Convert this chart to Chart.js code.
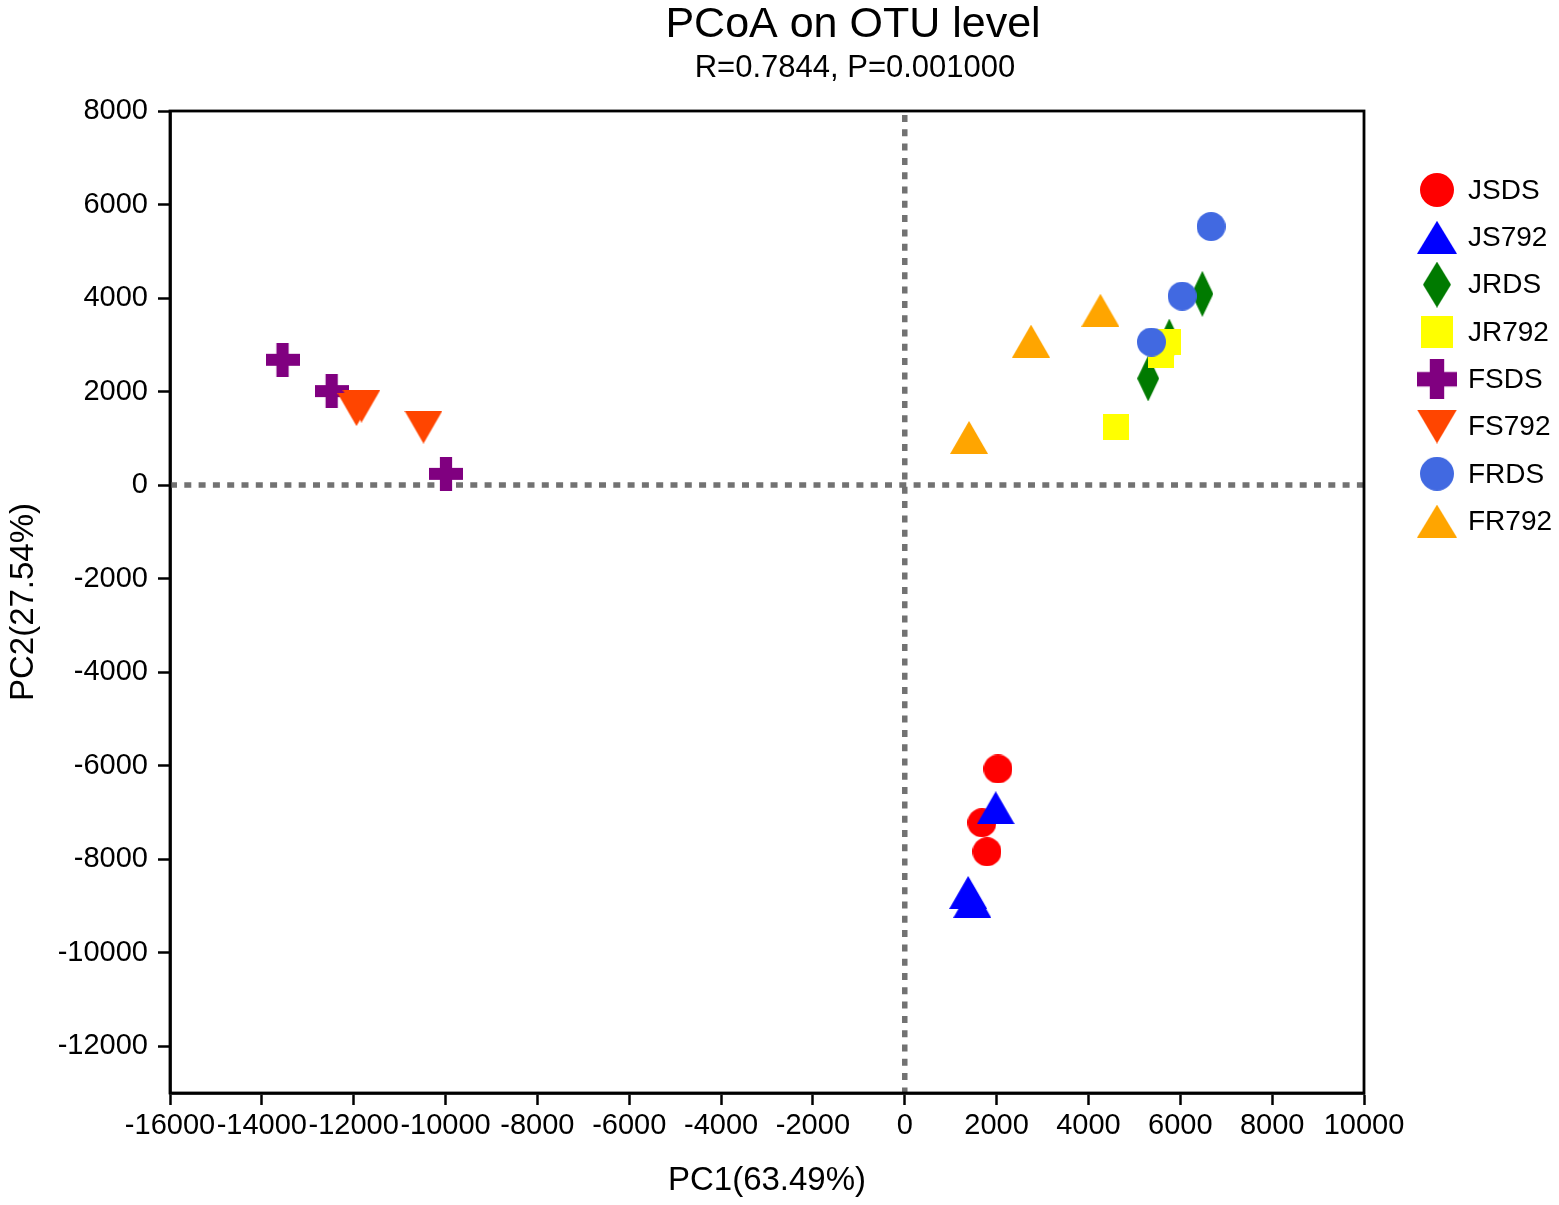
<!DOCTYPE html>
<html lang="en">
<head>
    <meta charset="UTF-8">
    <title>PCoA on OTU level</title>
    <script src="https://cdn.jsdelivr.net/npm/chart.js"></script>
    <style>
        * {
            margin: 0;
            padding: 0;
            box-sizing: border-box;
        }

        body {
            background-color: #ffffff;
        }

        .chart-box {
            position: relative;
            width: 1559px;
            height: 1205px;
        }
    </style>
</head>
<body>
    <div class="chart-box">
        <canvas id="pcoaChart"></canvas>
    </div>

    <script>
        // Data
        const groups = ['JSDS', 'JS792', 'JRDS', 'JR792', 'FSDS', 'FS792', 'FRDS', 'FR792'];

        const jsdsX = [2030, 1680, 1790];
        const jsdsY = [-6070, -7220, -7840];
        const js792X = [1980, 1380, 1470];
        const js792Y = [-6900, -8710, -8900];
        const jrdsX = [6480, 5760, 5300];
        const jrdsY = [4090, 3070, 2280];
        const jr792X = [4590, 5730, 5570];
        const jr792Y = [1250, 3070, 2790];
        const fsdsX = [-13550, -12480, -9990];
        const fsdsY = [2680, 2010, 240];
        const fs792X = [-11830, -11940, -10480];
        const fs792Y = [1690, 1615, 1240];
        const frdsX = [6670, 6040, 5370];
        const frdsY = [5530, 4040, 3060];
        const fr792X = [4260, 2750, 1400];
        const fr792Y = [3740, 3080, 1020];

        const xTicks = [-16000, -14000, -12000, -10000, -8000, -6000, -4000, -2000, 0, 2000, 4000, 6000, 8000, 10000];
        const yTicks = [-12000, -10000, -8000, -6000, -4000, -2000, 0, 2000, 4000, 6000, 8000];

        const seriesX = [jsdsX, js792X, jrdsX, jr792X, fsdsX, fs792X, frdsX, fr792X];
        const seriesY = [jsdsY, js792Y, jrdsY, jr792Y, fsdsY, fs792Y, frdsY, fr792Y];

        // Look
        const FONT = "'Liberation Sans', Arial, sans-serif";
        const colors = ['#ff0000', '#0000ff', '#007a00', '#ffff00', '#800080', '#ff4500', '#4169e1', '#ffa500'];
        const shapes = ['circle', 'triangle', 'diamond', 'square', 'plus', 'down', 'circle', 'triangle'];

        // size [w, h] of each shape, for the plot and for the legend
        const plotSize = { circle: [29, 29], triangle: [38, 33], down: [38, 33], diamond: [22, 46], square: [26, 26], plus: [34, 34] };
        const legendSize = { circle: [34, 34], triangle: [40, 33], down: [40, 34], diamond: [28, 46], square: [32, 32], plus: [40, 40] };

        function makeMarker(shape, w, h, color) {
            const c = document.createElement('canvas');
            c.width = w;
            c.height = h;
            const g = c.getContext('2d');
            g.fillStyle = color;
            g.beginPath();
            if (shape === 'circle') {
                g.arc(w / 2, h / 2, w / 2, 0, Math.PI * 2);
            } else if (shape === 'triangle') {
                g.moveTo(w / 2, 0);
                g.lineTo(w, h);
                g.lineTo(0, h);
            } else if (shape === 'down') {
                g.moveTo(0, 0);
                g.lineTo(w, 0);
                g.lineTo(w / 2, h);
            } else if (shape === 'diamond') {
                g.moveTo(w / 2, 0);
                g.lineTo(w, h / 2);
                g.lineTo(w / 2, h);
                g.lineTo(0, h / 2);
            } else if (shape === 'square') {
                g.rect(0, 0, w, h);
            } else if (shape === 'plus') {
                const t = w * 0.36;
                g.rect((w - t) / 2, 0, t, h);
                g.rect(0, (h - t) / 2, w, t);
            }
            g.closePath();
            g.fill();
            return c;
        }

        const plotMarkers = shapes.map((s, i) => makeMarker(s, plotSize[s][0], plotSize[s][1], colors[i]));
        const legendMarkers = shapes.map((s, i) => makeMarker(s, legendSize[s][0], legendSize[s][1], colors[i]));

        // Zero lines and plot box
        const framePlugin = {
            id: 'frame',
            beforeDatasetsDraw(chart) {
                const { ctx, chartArea, scales } = chart;
                const x0 = scales.x.getPixelForValue(0);
                const y0 = scales.y.getPixelForValue(0);
                ctx.save();
                ctx.strokeStyle = '#727272';
                ctx.lineWidth = 5.5;
                ctx.setLineDash([7, 7.3]);
                ctx.beginPath();
                ctx.moveTo(x0, chartArea.top + 4);
                ctx.lineTo(x0, chartArea.bottom);
                ctx.moveTo(chartArea.left, y0);
                ctx.lineTo(chartArea.right, y0);
                ctx.stroke();
                ctx.restore();
            },
            afterDraw(chart) {
                const { ctx, chartArea } = chart;
                ctx.save();
                ctx.strokeStyle = '#000000';
                ctx.lineWidth = 2.8;
                ctx.strokeRect(chartArea.left, chartArea.top, chartArea.right - chartArea.left, chartArea.bottom - chartArea.top);
                ctx.restore();
            }
        };

        // Title, subtitle and legend
        const textPlugin = {
            id: 'texts',
            afterDraw(chart) {
                const { ctx, chartArea } = chart;
                ctx.save();
                ctx.fillStyle = '#000000';
                ctx.textAlign = 'center';
                ctx.textBaseline = 'middle';
                ctx.font = '43px ' + FONT;
                ctx.fillText('PCoA on OTU level', 853, 25);
                ctx.font = '31px ' + FONT;
                ctx.fillText('R=0.7844, P=0.001000', 855, 68);

                ctx.textAlign = 'left';
                ctx.font = '28px ' + FONT;
                const mx = chartArea.right + 73;
                groups.forEach((name, i) => {
                    const y = 190 + i * 47.3;
                    const m = legendMarkers[i];
                    ctx.drawImage(m, mx - m.width / 2, y - m.height / 2);
                    ctx.fillText(name, mx + 31, y + 1);
                });
                ctx.restore();
            }
        };

        const datasets = groups.map((name, i) => ({
            label: name,
            data: seriesX[i].map((x, k) => ({ x: x, y: seriesY[i][k] })),
            pointStyle: plotMarkers[i],
            pointRadius: 15,
            backgroundColor: colors[i],
            borderColor: colors[i],
            order: groups.length - i
        }));

        const axisTick = { drawOnChartArea: false, drawTicks: true, tickLength: 12, tickColor: '#000000', tickWidth: 2.5 };

        new Chart(document.getElementById('pcoaChart'), {
            type: 'scatter',
            data: { datasets: datasets },
            plugins: [framePlugin, textPlugin],
            options: {
                responsive: true,
                maintainAspectRatio: false,
                animation: false,
                events: [],
                layout: {
                    padding: { top: 111, right: 195, left: 0, bottom: 0 }
                },
                plugins: {
                    legend: { display: false },
                    tooltip: { enabled: false },
                    title: { display: false }
                },
                scales: {
                    x: {
                        type: 'linear',
                        min: -16000,
                        max: 10000,
                        afterBuildTicks: s => { s.ticks = xTicks.map(v => ({ value: v })); },
                        afterFit: s => { s.height = 112; },
                        ticks: {
                            autoSkip: false,
                            maxRotation: 0,
                            padding: 4,
                            color: '#000000',
                            font: { family: FONT, size: 29 },
                            callback: v => String(v)
                        },
                        grid: axisTick,
                        border: { color: '#000000', width: 2.8 },
                        title: {
                            display: true,
                            text: 'PC1(63.49%)',
                            color: '#000000',
                            font: { family: FONT, size: 33 },
                            padding: { top: 4, bottom: 4 }
                        }
                    },
                    y: {
                        type: 'linear',
                        min: -13000,
                        max: 8000,
                        afterBuildTicks: s => { s.ticks = yTicks.map(v => ({ value: v })); },
                        afterFit: s => { s.width = 170; },
                        ticks: {
                            autoSkip: false,
                            padding: 10,
                            color: '#000000',
                            font: { family: FONT, size: 29 },
                            callback: v => String(v)
                        },
                        grid: axisTick,
                        border: { color: '#000000', width: 2.8 },
                        title: {
                            display: true,
                            text: 'PC2(27.54%)',
                            color: '#000000',
                            font: { family: FONT, size: 33 },
                            padding: { top: 4, bottom: 4 }
                        }
                    }
                }
            }
        });
    </script>
</body>
</html>
